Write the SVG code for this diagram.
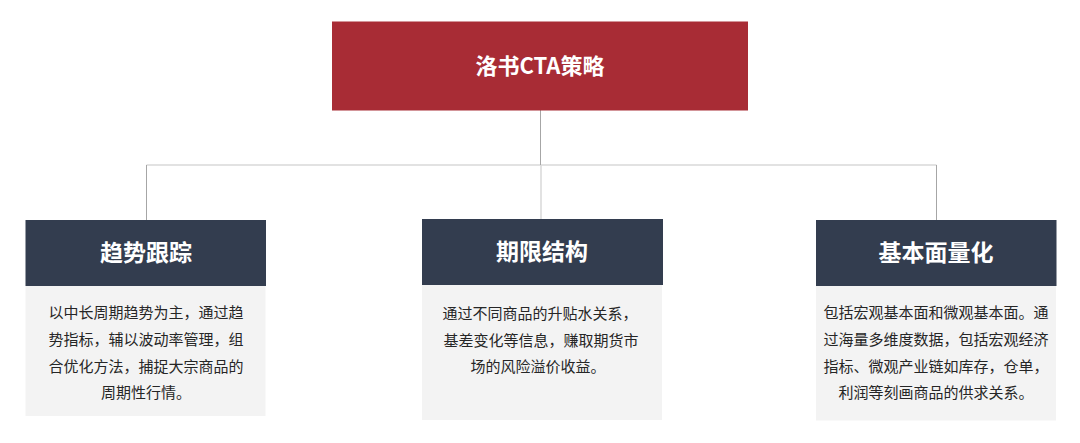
<svg xmlns="http://www.w3.org/2000/svg" width="1080" height="443" viewBox="0 0 1080 443">
<style>
text{font-family:"Noto Sans CJK SC","Liberation Sans",sans-serif;text-anchor:middle}
.root{fill:#a82c35}
.hd{fill:#333d4f}
.bd{fill:#f3f3f3}
.ht{fill:#ffffff;font-size:23px;font-weight:bold}
.tt{fill:#ffffff;font-size:22px;font-weight:bold}
.bt{fill:#262626;font-size:15px}
.ln{stroke:#a6a6a6;stroke-width:1;fill:none}
.hl{stroke:#d9d9d9;stroke-width:1.5;fill:none}
</style>
<rect width="1080" height="443" fill="#ffffff"/>
<g id="connectors">
<line class="hl" x1="146.5" y1="165" x2="936.5" y2="165"/>
<line class="ln" x1="540.5" y1="110" x2="540.5" y2="165"/>
<line class="ln" x1="146.5" y1="165" x2="146.5" y2="220"/>
<line class="hl" x1="541" y1="165" x2="541" y2="219"/>
<line class="ln" x1="936.5" y1="165" x2="936.5" y2="220"/>
</g>
<g id="root">
<rect class="root" x="332" y="21.5" width="416" height="89"/>
<text class="tt" x="540" y="74">洛书CTA策略</text>
</g>
<g id="trend">
<rect class="hd" x="25.5" y="220" width="240.5" height="66"/>
<rect class="bd" x="25.5" y="286" width="240" height="130"/>
<text class="ht" x="146" y="261">趋势跟踪</text>
<text class="bt" x="146" y="318">以中长周期趋势为主，通过趋</text>
<text class="bt" x="146" y="345">势指标，辅以波动率管理，组</text>
<text class="bt" x="146" y="371.5">合优化方法，捕捉大宗商品的</text>
<text class="bt" x="146" y="398">周期性行情。</text>
</g>
<g id="term">
<rect class="hd" x="422" y="219" width="241" height="66"/>
<rect class="bd" x="422" y="285" width="240" height="135"/>
<text class="ht" x="542" y="260">期限结构</text>
<text class="bt" x="540" y="319">通过不同商品的升贴水关系，</text>
<text class="bt" x="541" y="345.5">基差变化等信息，赚取期货市</text>
<text class="bt" x="538" y="371.5">场的风险溢价收益。</text>
</g>
<g id="fundamental">
<rect class="hd" x="816" y="220" width="240.5" height="66"/>
<rect class="bd" x="816" y="286" width="240" height="134.5"/>
<text class="ht" x="936" y="261">基本面量化</text>
<text class="bt" x="936" y="318">包括宏观基本面和微观基本面。通</text>
<text class="bt" x="936" y="345">过海量多维度数据，包括宏观经济</text>
<text class="bt" x="936" y="371.5">指标、微观产业链如库存，仓单，</text>
<text class="bt" x="936" y="398">利润等刻画商品的供求关系。</text>
</g>
</svg>
